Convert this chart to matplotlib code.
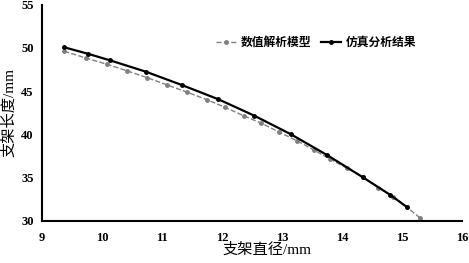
import matplotlib.pyplot as plt

plt.rcParams['font.family'] = ['Liberation Serif', 'Noto Sans CJK SC']

# 数值解析模型
model_x = [9.37, 9.73, 10.08, 10.41, 10.75, 11.09, 11.41, 11.75, 12.05, 12.36, 12.66,
           12.96, 13.25, 13.53, 13.81, 14.09, 14.35, 14.61, 14.86, 15.08, 15.31]
model_y = [49.62, 48.84, 48.12, 47.38, 46.57, 45.72, 44.91, 44.02, 43.14, 42.17, 41.29,
           40.25, 39.28, 38.21, 37.13, 36.09, 35.05, 33.85, 32.81, 31.62, 30.31]

# 仿真分析结果
sim_x = [9.37, 9.76, 10.13, 10.73, 11.33, 11.94, 12.54, 13.15, 13.75, 14.35, 14.80, 15.09]
sim_y = [50.08, 49.34, 48.58, 47.26, 45.72, 44.07, 42.17, 40.02, 37.63, 35.05, 33.04, 31.58]

labels = ['数值解析模型', '仿真分析结果']
xticks = [9, 10, 11, 12, 13, 14, 15, 16]
yticks = [30, 35, 40, 45, 50, 55]

fig = plt.figure(figsize=(4.69, 2.63), dpi=100)
ax = fig.add_axes([0.0896, 0.16, 0.895, 0.822])

ax.plot(model_x, model_y, '--', color='#808080', lw=1.0, marker='o', ms=2.5,
        label=labels[0])
ax.plot(sim_x, sim_y, '-', color='black', lw=1.6, marker='o', ms=2.5,
        label=labels[1])

ax.set_xlim(9, 16)
ax.set_ylim(30, 55)
ax.set_xticks(xticks)
ax.set_yticks(yticks)
ax.tick_params(axis='y', length=0, labelsize=9, pad=6)
ax.tick_params(axis='x', length=0, labelsize=9, pad=8)
for t in ax.get_xticklabels() + ax.get_yticklabels():
    t.set_fontweight('bold')

for s in ['top', 'right']:
    ax.spines[s].set_visible(False)
for s in ['left', 'bottom']:
    ax.spines[s].set_linewidth(1.5)

ax.set_xlabel('支架直径/mm', fontsize=11)
ax.xaxis.set_label_coords(0.535, -0.1)
ax.set_ylabel('支架长度/mm', fontsize=11)
ax.yaxis.set_label_coords(-0.062, 0.5)

leg = ax.legend(ncol=2, loc='upper left', bbox_to_anchor=(0.39, 0.9), frameon=False,
                prop={'size': 8.5, 'weight': 'bold'}, handlelength=1.7,
                columnspacing=0.8, handletextpad=0.4)

fig.savefig('out.png', dpi=100)
